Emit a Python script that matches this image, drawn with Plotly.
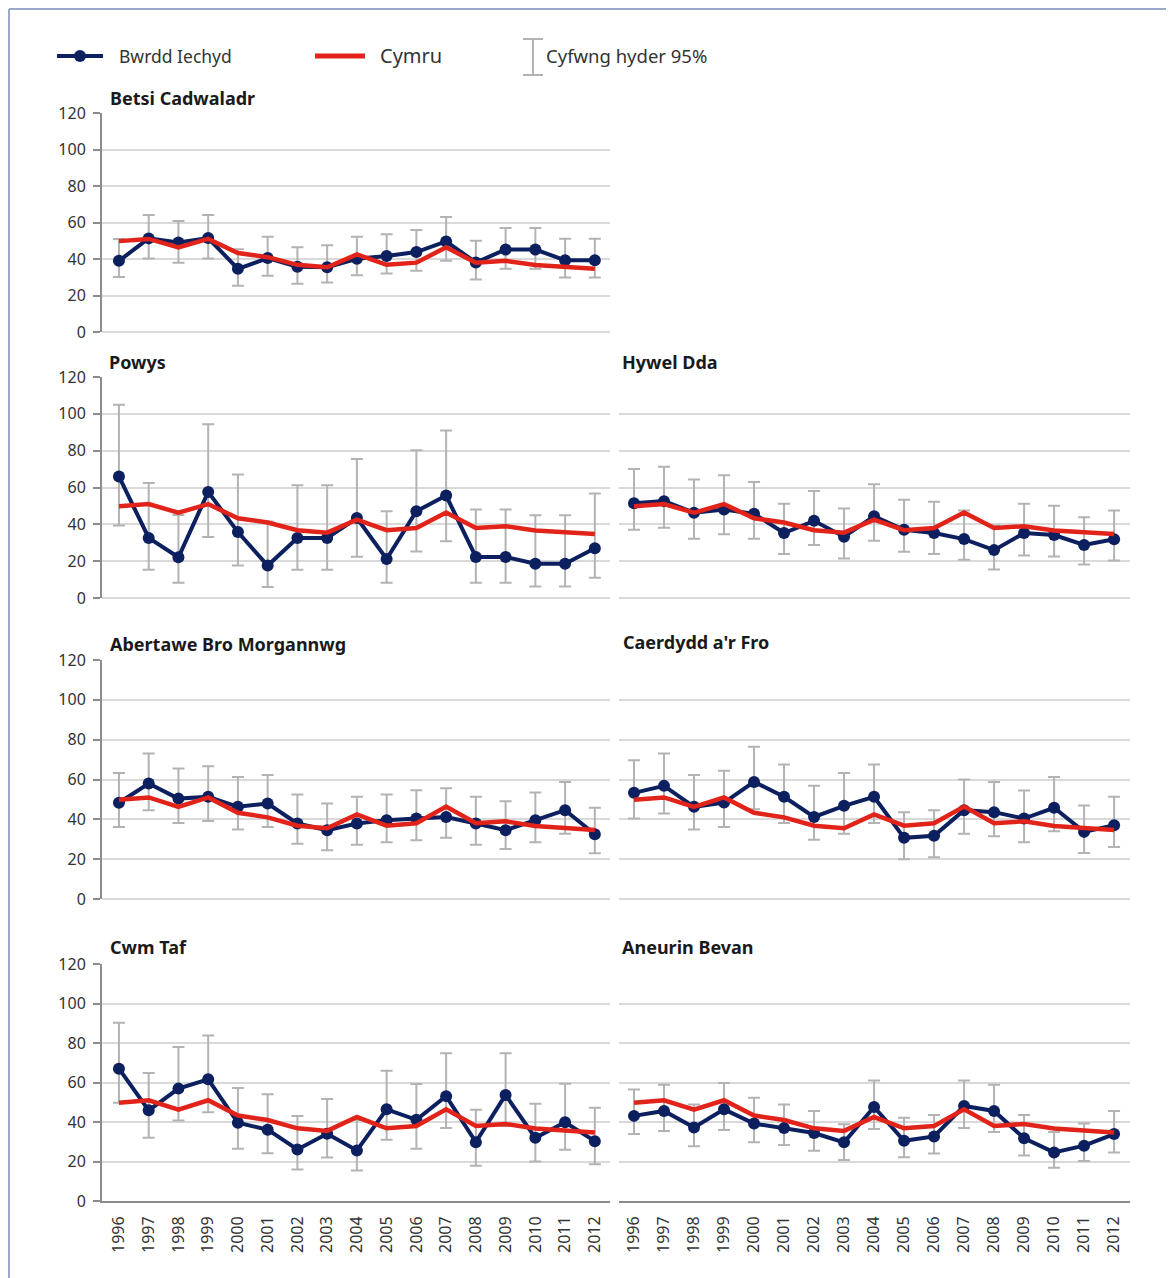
import plotly.graph_objects as go

# ---------------- data ----------------
years = list(range(1996, 2013))
year_labels = [str(y) for y in years]
y_ticks = [0, 20, 40, 60, 80, 100, 120]

cymru = [49.8, 51.0, 46.3, 51.0, 43.3, 41.0, 36.8, 35.5, 42.5, 36.8, 38.0, 46.4, 38.0, 39.0, 36.7, 35.6, 34.7]

betsi = [39, 51.3, 49, 51.5, 34.6, 40.5, 35.7, 35.5, 40.1, 41.6, 43.8, 49.6, 38.1, 45.2, 45.2, 39.3, 39.3]
betsi_lo = [30.2, 40.3, 37.9, 40.3, 25.3, 30.8, 26.4, 27.1, 31.1, 32.1, 33.5, 39, 28.8, 34.6, 34.6, 29.9, 29.9]
betsi_hi = [51, 64.1, 60.8, 64.1, 45.3, 52.2, 46.4, 47.6, 52.2, 53.5, 55.9, 63, 50, 57, 57, 51.1, 51.1]

powys = [66, 32.6, 22.1, 57.6, 35.8, 17.6, 32.6, 32.6, 43.4, 21.2, 47.1, 55.6, 22.3, 22.3, 18.6, 18.6, 27]
powys_lo = [39.3, 15.4, 8.3, 33.1, 17.7, 6, 15.4, 15.4, 22.4, 8.3, 25.2, 30.8, 8.3, 8.3, 6.3, 6.3, 11]
powys_hi = [105, 62.4, 45, 94.3, 67.1, 41.5, 61.2, 61.2, 75.5, 47.1, 80.2, 91, 48.1, 48.1, 44.9, 44.9, 56.7]

hywel = [51.5, 52.6, 46.3, 48.1, 45.7, 35.3, 41.9, 33.3, 44.4, 37, 35.3, 32, 26, 35.3, 34.2, 28.8, 31.9]
hywel_lo = [37, 38.1, 32.2, 34.6, 32.2, 23.9, 28.8, 21.5, 31.1, 25.1, 23.9, 20.8, 15.5, 23.1, 22.6, 18.2, 20.4]
hywel_hi = [70.1, 71.2, 64.3, 66.7, 63, 51.2, 58.1, 48.6, 61.7, 53.4, 52.3, 47.5, 39.3, 51.2, 50.1, 43.9, 47.5]

abm = [48.3, 58, 50.4, 51.3, 46.3, 47.9, 37.9, 34.5, 37.9, 39.6, 40.4, 41.2, 37.9, 34.5, 39.6, 44.6, 32.5]
abm_lo = [36.2, 44.6, 38.2, 39.2, 34.9, 36.2, 27.7, 24.5, 27.3, 28.5, 29.5, 30.7, 27.3, 25.1, 28.5, 32.8, 23]
abm_hi = [63.3, 73.1, 65.5, 66.7, 61.3, 62.2, 52.5, 47.9, 51.3, 52.5, 54.6, 55.6, 51.4, 49.1, 53.5, 58.8, 45.8]

cvu = [53.3, 56.8, 46.3, 48.4, 58.8, 51.3, 41.2, 46.8, 51.3, 30.7, 31.7, 44.6, 43.6, 40.4, 45.8, 33.7, 37]
cvu_lo = [40.4, 42.9, 34.9, 36.2, 45.1, 38.2, 29.7, 32.8, 38.2, 19.9, 20.9, 32.7, 31.5, 28.5, 34, 23.1, 26.1]
cvu_hi = [69.7, 73.1, 62.2, 64.4, 76.4, 67.5, 56.8, 63.3, 67.5, 43.6, 44.6, 60, 58.7, 54.5, 61.3, 46.9, 51.3]

cwm = [67, 45.9, 56.9, 61.6, 39.6, 36.1, 26.1, 34, 25.6, 46.4, 41.1, 53.1, 29.8, 53.7, 32, 39.9, 30.3]
cwm_lo = [49.8, 32, 40.8, 45, 26.4, 24.2, 15.9, 22, 15.4, 31, 26.4, 36.9, 17.9, 38, 20, 25.9, 18.6]
cwm_hi = [90.2, 64.8, 78, 83.8, 57.2, 54, 43, 51.6, 41, 66, 59.2, 74.8, 46.2, 74.8, 49.3, 59.4, 47.2]

aneurin = [43.1, 45.6, 37.2, 46.4, 39.2, 36.9, 34.4, 29.7, 47.6, 30.5, 32.7, 48.1, 45.6, 31.8, 24.6, 28, 33.9]
aneurin_lo = [33.9, 35.4, 27.7, 36, 29.7, 28.3, 25.5, 20.8, 36.4, 22.1, 24, 36.9, 35, 23, 16.8, 20.3, 24.5]
aneurin_hi = [56.5, 58.8, 48.9, 59.8, 52.3, 48.9, 45.6, 38.9, 61, 42.2, 43.6, 61, 58.8, 43.6, 35, 39.2, 45.6]

titles = ["Betsi Cadwaladr", "Powys", "Hywel Dda", "Abertawe Bro Morgannwg",
          "Caerdydd a'r Fro", "Cwm Taf", "Aneurin Bevan"]
legend_labels = ["Bwrdd Iechyd", "Cymru", "Cyfwng hyder 95%"]

# ---------------- layout helpers ----------------
W, H = 1174, 1278
OX, OY = 8, 8  # page offset of the figure inside the browser window
def px(x):
    return (x - OX) / W
def py(y):
    return 1 - (y - OY) / H

NAVY = "#0c1f5e"
RED = "#e2231a"
GRID = "#d9d9d9"
AXIS = "#8c8c8c"
EBAR = "#b3b3b3"
TXT = "#333333"
FONT = "Noto Sans"

col_dom = {0: (102, 610), 1: (619, 1130)}
col_rng = {0: [1995.43, 2012.51], 1: [1995.5, 2012.53]}
row_dom = {0: (113, 332), 1: (377, 598), 2: (660, 899), 3: (964, 1201)}

# (title, values, lo, hi, row, col, title_x, title_y)
panels = [
    (titles[0], betsi, betsi_lo, betsi_hi, 0, 0, 108, 98),
    (titles[1], powys, powys_lo, powys_hi, 1, 0, 107, 362),
    (titles[2], hywel, hywel_lo, hywel_hi, 1, 1, 620, 362),
    (titles[3], abm, abm_lo, abm_hi, 2, 0, 108, 644),
    (titles[4], cvu, cvu_lo, cvu_hi, 2, 1, 621, 642),
    (titles[5], cwm, cwm_lo, cwm_hi, 3, 0, 108, 947),
    (titles[6], aneurin, aneurin_lo, aneurin_hi, 3, 1, 620, 947),
]

fig = go.Figure()
layout = dict(
    width=W, height=H,
    margin=dict(l=0, r=0, t=0, b=0, pad=0, autoexpand=False),
    paper_bgcolor="white", plot_bgcolor="white",
    showlegend=False,
    font=dict(family=FONT, color=TXT, size=16),
)
annotations = []
shapes = []

for i, (title, vals, lo, hi, row, col, tx, ty) in enumerate(panels):
    n = i + 1
    xa = "x" if n == 1 else f"x{n}"
    ya = "y" if n == 1 else f"y{n}"
    xkey = "xaxis" if n == 1 else f"xaxis{n}"
    ykey = "yaxis" if n == 1 else f"yaxis{n}"
    plus = [h - v for h, v in zip(hi, vals)]
    minus = [v - l for v, l in zip(vals, lo)]
    fig.add_trace(go.Scatter(
        x=years, y=vals, mode="markers", xaxis=xa, yaxis=ya,
        marker=dict(size=1, color="rgba(0,0,0,0)"),
        error_y=dict(type="data", symmetric=False, array=plus, arrayminus=minus,
                     color=EBAR, thickness=2, width=6),
        hoverinfo="skip",
    ))
    fig.add_trace(go.Scatter(
        x=years, y=vals, mode="lines+markers", xaxis=xa, yaxis=ya,
        line=dict(color=NAVY, width=4), marker=dict(color=NAVY, size=12),
        name=legend_labels[0],
    ))
    fig.add_trace(go.Scatter(
        x=years, y=cymru, mode="lines", xaxis=xa, yaxis=ya,
        line=dict(color=RED, width=4.5), name=legend_labels[1],
    ))
    x0, x1 = col_dom[col]
    y0, y1 = row_dom[row]
    bottom = row == 3
    left = col == 0
    layout[xkey] = dict(
        domain=[px(x0), px(x1)], range=col_rng[col], anchor=ya, automargin=False,
        tickmode="array", tickvals=years, ticktext=year_labels,
        showticklabels=bottom, tickangle=-90, tickfont=dict(size=16, color=TXT),
        ticklabelstandoff=7,
        showgrid=False, zeroline=False,
        showline=bottom, linecolor=AXIS, linewidth=2, ticks="",
    )
    layout[ykey] = dict(
        domain=[py(y1), py(y0)], range=[0, 120], anchor=xa, automargin=False,
        tickmode="array", tickvals=y_ticks,
        showticklabels=left, tickfont=dict(size=16, color=TXT),
        ticklabelstandoff=4,
        showgrid=True, gridcolor=GRID, gridwidth=2,
        zeroline=True, zerolinecolor=GRID, zerolinewidth=2,
        showline=left, linecolor=AXIS, linewidth=2,
        ticks="outside" if left else "", ticklen=7, tickcolor=AXIS, tickwidth=2,
    )
    annotations.append(dict(
        text=f"<b>{title}</b>", x=px(tx), y=py(ty), xref="paper", yref="paper",
        xanchor="left", yanchor="middle", showarrow=False,
        font=dict(size=18, color="#1a1a1a", family=FONT),
    ))

# frame (left and top edges)
FRAME_X = 9
shapes.append(dict(type="line", xref="paper", yref="paper", x0=px(FRAME_X), x1=px(FRAME_X),
                   y0=py(9), y1=py(1290), line=dict(color="#9aa8cc", width=2)))
shapes.append(dict(type="line", xref="paper", yref="paper", x0=px(FRAME_X), x1=px(1190),
                   y0=py(9), y1=py(9), line=dict(color="#9aa8cc", width=2)))

# legend (manual)
LY = 56
shapes.append(dict(type="line", xref="paper", yref="paper", x0=px(57), x1=px(103),
                   y0=py(LY), y1=py(LY), line=dict(color=NAVY, width=4)))
shapes.append(dict(type="circle", xref="paper", yref="paper", x0=px(74), x1=px(86),
                   y0=py(LY + 6), y1=py(LY - 6), fillcolor=NAVY, line=dict(color=NAVY, width=0)))
shapes.append(dict(type="line", xref="paper", yref="paper", x0=px(315), x1=px(365),
                   y0=py(LY), y1=py(LY), line=dict(color=RED, width=5)))
shapes.append(dict(type="line", xref="paper", yref="paper", x0=px(533), x1=px(533),
                   y0=py(39), y1=py(75), line=dict(color=EBAR, width=2)))
shapes.append(dict(type="line", xref="paper", yref="paper", x0=px(523), x1=px(543),
                   y0=py(39), y1=py(39), line=dict(color=EBAR, width=2)))
shapes.append(dict(type="line", xref="paper", yref="paper", x0=px(523), x1=px(543),
                   y0=py(75), y1=py(75), line=dict(color=EBAR, width=2)))
for txt, x, size in [(legend_labels[0], 117, 17.5), (legend_labels[1], 378, 20),
                     (legend_labels[2], 544, 18.5)]:
    annotations.append(dict(text=txt, x=px(x), y=py(LY), xref="paper", yref="paper",
                            xanchor="left", yanchor="middle", showarrow=False,
                            font=dict(size=size, color=TXT, family=FONT)))

layout["annotations"] = annotations
layout["shapes"] = shapes
fig.update_layout(**layout)
fig.write_html("out.html")
